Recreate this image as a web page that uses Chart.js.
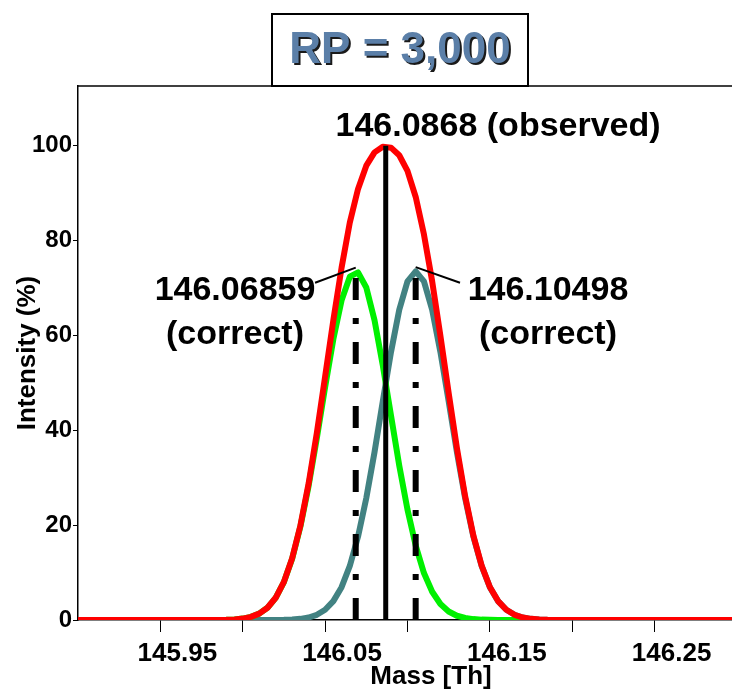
<!DOCTYPE html>
<html><head><meta charset="utf-8">
<script src="https://cdn.jsdelivr.net/npm/chart.js@4.4.1/dist/chart.umd.min.js"></script>
<style>html,body{margin:0;padding:0;background:#fff}#wrap{width:732px;height:692px;position:relative}</style>
</head><body><div id="wrap"><canvas id="c"></canvas></div>
<script>
// ---- data ----
const massGrid = [145.900,145.985,145.990,145.995,146.000,146.005,146.010,146.015,146.020,146.025,146.030,146.035,146.040,146.045,146.050,146.055,146.060,146.065,146.070,146.075,146.080,146.085,146.090,146.095,146.100,146.105,146.110,146.115,146.120,146.125,146.130,146.135,146.140,146.145,146.150,146.155,146.160,146.165,146.170,146.175,146.180,146.185,146.190,146.300];
const observedProfile = [0,0.02,0.05,0.13,0.30,0.66,1.34,2.58,4.69,8.04,13.0,19.9,28.8,39.5,51.3,63.2,74.3,83.8,90.9,95.8,98.6,99.8,99.6,98.0,94.7,89.2,81.3,71.4,59.9,47.9,36.3,26.1,17.8,11.5,6.95,3.99,2.15,1.10,0.53,0.24,0.10,0.04,0.02,0];
const firstIsotopeProfile = [0,0.02,0.05,0.13,0.30,0.66,1.34,2.57,4.67,8.00,12.9,19.7,28.3,38.4,49.1,59.2,67.4,72.4,73.3,70.1,63.2,53.7,43.1,32.6,23.3,15.7,9.9,5.96,3.37,1.80,0.90,0.43,0.19,0.08,0.03,0.01,0,0,0,0,0,0,0,0];
const secondIsotopeProfile = [0,0,0,0,0,0,0,0.01,0.02,0.04,0.10,0.24,0.53,1.10,2.15,3.98,6.92,11.4,17.6,25.7,35.4,46.1,56.5,65.4,71.4,73.5,71.4,65.4,56.5,46.1,35.4,25.7,17.6,11.4,6.92,3.98,2.15,1.10,0.53,0.24,0.10,0.04,0.02,0];
const observedMass = 146.0868;
const observedPeak = 100;
const correctMasses = [146.06859, 146.10498];
const correctPeak = 73;
const xTickValues = [145.95,146.00,146.05,146.10,146.15,146.20,146.25];
const xTickLabels = ['145.95','','146.05','','146.15','','146.25'];
const yTickValues = [0,20,40,60,80,100];
const titleText = 'RP = 3,000';

// ---- annotation placement (data units) ----
const notes = [
  {text:[correctMasses[0].toFixed(5),'(correct)'], x:145.9953, y:[69.4,60.1],
   leader:[[146.0439,71.1],[correctMasses[0],74.3]]},
  {text:[correctMasses[1].toFixed(5),'(correct)'], x:146.1853, y:[69.4,60.1],
   leader:[[correctMasses[1],74.4],[146.1319,71.1]]}
];
const observedNote = {text: observedMass.toFixed(4)+' (observed)', x:146.1550, y:104.0};

const pts = (ys) => massGrid.map((m,i)=>({x:m,y:ys[i]}));
const vline = (m,top) => [{x:m,y:0},{x:m,y:top}];

const FONT = '"Liberation Sans", Arial, sans-serif';

const annotPlugin = {
  id:'annot',
  afterDatasetsDraw(chart){
    const {ctx, chartArea, scales:{x,y}} = chart;
    ctx.save();
    // top frame line
    ctx.strokeStyle='#000'; ctx.lineWidth=1.5;
    ctx.beginPath(); ctx.moveTo(chartArea.left, chartArea.top); ctx.lineTo(chartArea.right, chartArea.top); ctx.stroke();
    // leaders + labels
    ctx.lineWidth=2;
    ctx.fillStyle='#000';
    ctx.textAlign='center'; ctx.textBaseline='middle';
    ctx.font='bold 34px '+FONT;
    for(const n of notes){
      ctx.beginPath();
      ctx.moveTo(x.getPixelForValue(n.leader[0][0]), y.getPixelForValue(n.leader[0][1]));
      ctx.lineTo(x.getPixelForValue(n.leader[1][0]), y.getPixelForValue(n.leader[1][1]));
      ctx.stroke();
      n.text.forEach((t,i)=>ctx.fillText(t, x.getPixelForValue(n.x), y.getPixelForValue(n.y[i])));
    }
    ctx.font='bold 34px '+FONT;
    ctx.fillText(observedNote.text, x.getPixelForValue(observedNote.x), y.getPixelForValue(observedNote.y));
    // x axis title
    ctx.font='bold 26px '+FONT;
    ctx.fillText('Mass [Th]', 431, 677);
    // title box
    const bx=272, by=14, bw=256, bh=72;
    ctx.fillStyle='#fff'; ctx.fillRect(bx,by,bw,bh);
    ctx.strokeStyle='#000'; ctx.lineWidth=2; ctx.strokeRect(bx,by,bw,bh);
    ctx.font='bold 44px '+FONT;
    ctx.shadowColor='#1a1a1a'; ctx.shadowOffsetX=2; ctx.shadowOffsetY=2; ctx.shadowBlur=0;
    ctx.fillStyle='#5b7fa8';
    ctx.fillText(titleText, bx+bw/2, by+bh/2+1);
    ctx.restore();
  }
};

new Chart(document.getElementById('c'), {
  type:'line',
  data:{datasets:[
    {data:vline(observedMass,observedPeak), borderColor:'#000', borderWidth:5, borderCapStyle:'butt'},
    {data:vline(correctMasses[0],correctPeak), borderColor:'#000', borderWidth:6, borderDash:[22,18,6,18], borderCapStyle:'butt'},
    {data:vline(correctMasses[1],correctPeak), borderColor:'#000', borderWidth:6, borderDash:[22,18,6,18], borderCapStyle:'butt'},
    {data:pts(observedProfile), borderColor:'#ff0000', borderWidth:6, borderJoinStyle:'round'},
    {data:pts(firstIsotopeProfile), borderColor:'#00f000', borderWidth:6, borderJoinStyle:'round'},
    {data:pts(secondIsotopeProfile), borderColor:'#428282', borderWidth:6, borderJoinStyle:'round'}
  ]},
  options:{
    responsive:true, maintainAspectRatio:false, animation:false,
    layout:{padding:{top:86,left:0,right:0,bottom:0}},
    elements:{point:{radius:0}, line:{tension:0, fill:false}},
    plugins:{legend:{display:false}, tooltip:{enabled:false}, title:{display:false}},
    scales:{
      x:{type:'linear', min:145.9, max:146.297,
        afterBuildTicks(s){ s.ticks = xTickValues.map(v=>({value:v})); },
        afterFit(s){ s.height = 72; },
        grid:{display:true, drawOnChartArea:false, drawTicks:true, tickLength:12, color:'#000', lineWidth:1},
        border:{display:true, color:'#000', width:1.5},
        ticks:{autoSkip:false, maxRotation:0, labelOffset:17, padding:6, color:'#000',
          font:{family:FONT, size:26, weight:'bold'},
          callback(v,i){ return xTickLabels[i]; }}
      },
      y:{type:'linear', min:0, max:112.6,
        afterBuildTicks(s){ s.ticks = yTickValues.map(v=>({value:v})); },
        afterFit(s){ s.width = 78; },
        grid:{display:true, drawOnChartArea:false, drawTicks:true, tickLength:5, color:'#000', lineWidth:1},
        border:{display:true, color:'#000', width:1.5},
        ticks:{padding:1, color:'#000', font:{family:FONT, size:24, weight:'bold'}},
        title:{display:true, text:'Intensity (%)', color:'#000', padding:{top:12,bottom:0},
          font:{family:FONT, size:26, weight:'bold', lineHeight:1.2}}
      }
    }
  },
  plugins:[annotPlugin]
});
</script>
</body></html>
